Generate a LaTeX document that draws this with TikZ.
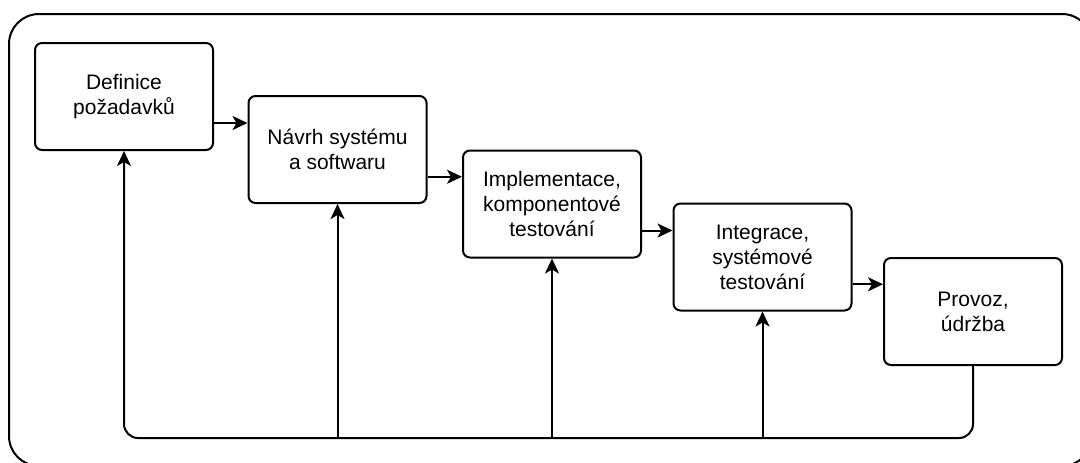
\documentclass[tikz,border=0pt]{standalone}
\usepackage{fontspec}
\setmainfont{Liberation Sans}
\usetikzlibrary{arrows.meta,calc}
\tikzset{
	phase/.style    = {shape=rectangle, rounded corners=3.5pt,
		draw, line width=1pt, anchor=center,
		minimum width=89pt, minimum height=53.5pt,
		align=center, inner sep=0pt,
		font=\fontsize{10.5}{12.5}\selectfont},
	flowarrow/.style = {line width=1pt,
		-{Stealth[length=7.5pt,width=7pt,inset=2pt]}},
	outerbox/.style = {line width=1pt, rounded corners=15pt}
}

\begin{document}
\begin{tikzpicture}[x=0.5pt, y=-0.5pt]
	\clip (0,0) rectangle (1080,462);
	\draw[outerbox] (9,14) rectangle (1092,466);

	% phases
	\node[phase] (definice) at (124,96.5)  {Definice\\požadavků};
	\node[phase] (navrh)    at (337.5,149.5) {Návrh systému\\a softwaru};
	\node[phase] (impl)     at (552,204)   {Implementace,\\komponentové\\testování};
	\node[phase] (integ)    at (762.5,257) {Integrace,\\systémové\\testování};
	\node[phase] (provoz)   at (973,311.5) {Provoz,\\údržba};

	% forward steps
	\coordinate (m1) at ($(definice.south east)!.5!(navrh.north west)$);
	\coordinate (m2) at ($(navrh.south east)!.5!(impl.north west)$);
	\coordinate (m3) at ($(impl.south east)!.5!(integ.north west)$);
	\coordinate (m4) at ($(integ.south east)!.5!(provoz.north west)$);
	\draw[flowarrow] (definice.east |- m1) -- (navrh.west |- m1);
	\draw[flowarrow] (navrh.east |- m2) -- (impl.west |- m2);
	\draw[flowarrow] (impl.east |- m3) -- (integ.west |- m3);
	\draw[flowarrow] (integ.east |- m4) -- (provoz.west |- m4);

	% feedback
	\coordinate (bus) at (0,438);
	\draw[flowarrow, rounded corners=7pt]
		(provoz.south) -- (provoz.south |- bus) -| (definice.south);
	\draw[flowarrow] (navrh.south |- bus) -- (navrh.south);
	\draw[flowarrow] (impl.south |- bus) -- (impl.south);
	\draw[flowarrow] (integ.south |- bus) -- (integ.south);
\end{tikzpicture}
\end{document}
